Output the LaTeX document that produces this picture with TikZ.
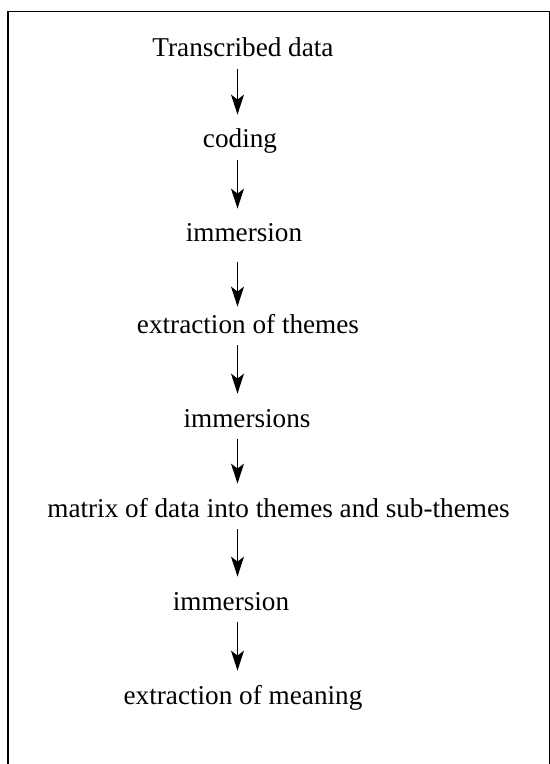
\documentclass[tikz,border=0pt]{standalone}
\IfFileExists{pplr8t.tfm}{%
  \usepackage[T1]{fontenc}%
  \renewcommand\rmdefault{ppl}%
  \newcommand\lblfont{\fontsize{12.1}{14}\selectfont}%
}{%
  \usepackage{fontspec}%
  \setmainfont{Liberation Serif}%
  \newcommand\lblfont{\fontsize{13.6}{15}\selectfont}%
}
\usetikzlibrary{arrows.meta}
\begin{document}
\begin{tikzpicture}[x=0.5pt,y=-0.5pt,
  lbl/.style={anchor=base,inner sep=0pt,text height=16.5pt,text depth=6pt,font=\lblfont},
  arr/.style={-{Stealth[length=10pt,width=6.5pt,inset=2.5pt]},line width=0.6pt},
  frame/.style={line width=0.6pt}]
\useasboundingbox (0,0) rectangle (550,764);
\draw[frame] (8,764) -- (8,11.7) -- (549.3,11.7) -- (549.3,764);
\coordinate (ax) at (237.5,0);
\node[lbl] (n1) at (243,57) {Transcribed data};
\node[lbl] (n2) at (240,148) {coding};
\node[lbl] (n3) at (244,242) {immersion};
\node[lbl] (n4) at (248,333) {extraction of themes};
\node[lbl] (n5) at (247,427) {immersions};
\node[lbl] (n6) at (278.5,517) {matrix of data into themes and sub-themes};
\node[lbl] (n7) at (231,610) {immersion};
\node[lbl] (n8) at (243,704) {extraction of meaning};
\draw[arr] (n1.south -| ax) -- (n2.north -| ax);
\draw[arr] (n2.south -| ax) -- (n3.north -| ax);
\draw[arr,shorten <=4pt,shorten >=-3.5pt] (n3.south -| ax) -- (n4.north -| ax);
\draw[arr] (n4.south -| ax) -- (n5.north -| ax);
\draw[arr] (n5.south -| ax) -- (n6.north -| ax);
\draw[arr] (n6.south -| ax) -- (n7.north -| ax);
\draw[arr] (n7.south -| ax) -- (n8.north -| ax);
\end{tikzpicture}
\end{document}
